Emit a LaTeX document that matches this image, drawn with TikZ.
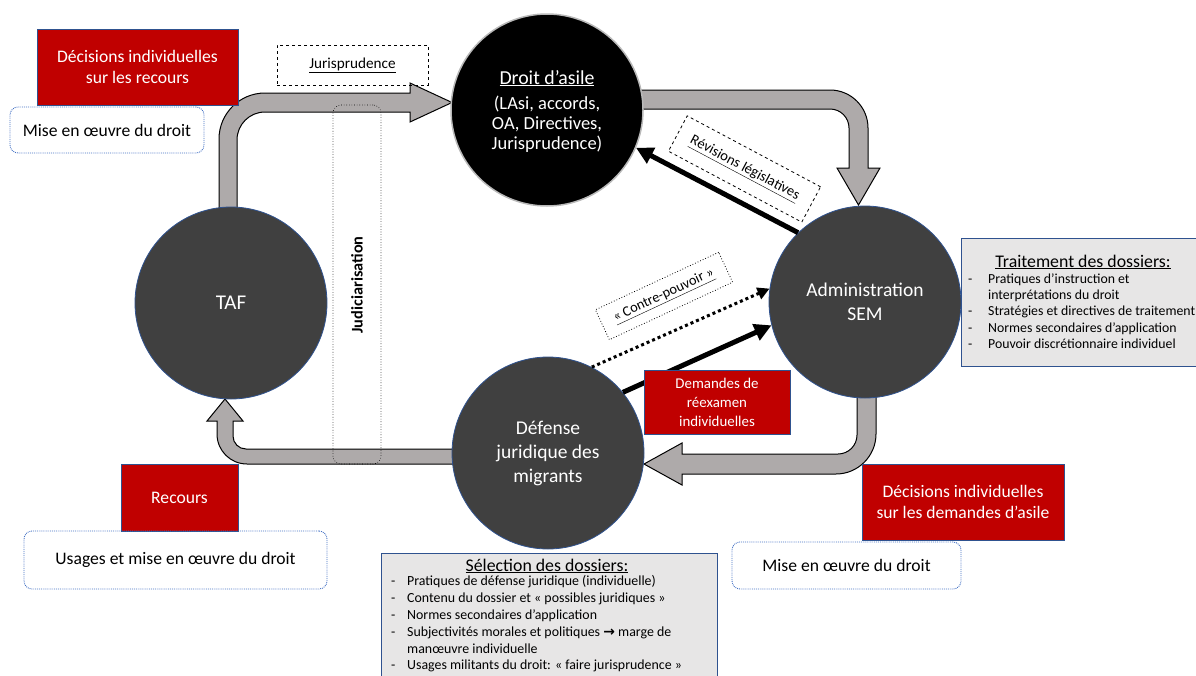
\documentclass[tikz,border=0pt]{standalone}
\usepackage{fontspec}
\setmainfont{Carlito}
\newfontfamily\dejavu{DejaVu Sans}
\usetikzlibrary{arrows.meta}
\definecolor{redfill}{HTML}{C00000}
\definecolor{bluebd}{HTML}{2F528F}
\definecolor{dotblue}{HTML}{4472C4}
\definecolor{arrowgrey}{HTML}{AEAAAA}
\definecolor{circgrey}{HTML}{404040}
\definecolor{boxgrey}{HTML}{E7E6E6}
\begin{document}
\begin{tikzpicture}[x=1pt,y=-1pt,
  circ/.style={circle, minimum size=192pt, inner sep=0pt, text=white, align=center, font=\fontsize{19.5}{24}\selectfont},
  blackcirc/.style={circ, fill=black, draw=gray!55, line width=1.5pt},
  greycirc/.style={circ, fill=circgrey, draw=bluebd, line width=0.8pt},
  redbox/.style={rectangle, fill=redfill, draw=bluebd, line width=0.8pt, text=white, align=center, inner sep=0pt, font=\fontsize{17.6}{20.5}\selectfont},
  misebox/.style={rectangle, rounded corners=8pt, draw=dotblue, densely dotted, line width=0.9pt, align=center, inner sep=0pt, font=\fontsize{17.6}{20}\selectfont},
  dashlabel/.style={rectangle, draw=black, dashed, line width=0.8pt, inner sep=0pt, font=\fontsize{14.5}{16}\selectfont},
  dotlabel/.style={rectangle, draw=black, dotted, line width=0.8pt, inner sep=0pt, font=\fontsize{14.3}{16}\selectfont},
  blockarrow/.style={fill=arrowgrey, draw=black, line width=1pt, line join=miter},
  greybox/.style={fill=boxgrey, draw=bluebd, line width=0.8pt},
  boldarrow/.style={line width=5pt, -{Triangle[length=17pt,width=17pt]}},
  dotarrow/.style={line width=3pt, dash pattern=on 3pt off 3pt, -{Triangle[length=12pt,width=12pt]}},
  title/.style={inner sep=0pt, font=\fontsize{17.8}{20}\selectfont},
  bullets/.style={inner sep=0pt, anchor=north west},
]
\useasboundingbox (0,0) rectangle (1196,675);

% block arrows
\draw[blockarrow] (219,208) -- (219,139) .. controls (219,113.6) and (239.6,93) .. (265,93) -- (410,93) -- (410,83) -- (452,102.5) -- (410,122) -- (410,112) -- (265,112) .. controls (249.5,112) and (237,124.5) .. (237,140) -- (237,208) -- cycle;
\draw[blockarrow] (638,90) -- (830,90) .. controls (851,90) and (868,107) .. (868,128) -- (868,168) -- (880,168) -- (858.5,205) -- (837,168) -- (849,168) -- (849,128) .. controls (849,117.5) and (840.5,109) .. (830,109) -- (638,109) -- cycle;
\draw[blockarrow] (857,392) -- (857,435) .. controls (857,445.5) and (848.5,454) .. (838,454) -- (682,454) -- (682,443) -- (644,464) -- (682,485) -- (682,474) -- (836,474) .. controls (858,474) and (876,456) .. (876,434) -- (876,392) -- cycle;
\draw[blockarrow] (456,449) -- (246,449) .. controls (238.8,449) and (233,443.2) .. (233,436) -- (233,421) -- (243,421) -- (225,399) -- (207,421) -- (217,421) -- (217,434) .. controls (217,450.6) and (230.4,464) .. (247,464) -- (456,464) -- cycle;

% circles
\node[blackcirc, font=\fontsize{18.5}{20}\selectfont] (droit) at (547,110) {\\[-4pt]{\fontsize{19.8}{20}\selectfont\underline{Droit d’asile}}\\[5pt](LAsi, accords,\\ OA, Directives,\\ Jurisprudence)};
\node[greycirc, font=\fontsize{21}{24}\selectfont] (taf) at (231,303) {TAF};
\node[greycirc] (sem) at (865,302) {Administration\\SEM};
\node[greycirc] (def) at (548,453) {Défense\\juridique des\\migrants};

% judiciarisation
\node[draw, dotted, line width=0.6pt, rounded corners=8pt, minimum width=48pt, minimum height=359pt, inner sep=0pt] (judic) at (357,284.5) {};
\node[rotate=90, inner sep=0pt, font=\bfseries\fontsize{16.3}{18}\selectfont] (judictxt) at (357,285) {Judiciarisation};

% labels on connectors
\node[dashlabel, minimum width=151pt, minimum height=40pt, font=\fontsize{15.2}{16}\selectfont] (juris) at (352.5,65) {\underline{Jurisprudence}};
\node[dashlabel, minimum width=151pt, minimum height=40pt, rotate=-28] (revis) at (744.5,169) {\underline{Révisions législatives}};
\node[dotlabel, minimum width=136pt, minimum height=33pt, rotate=25] (contre) at (664,296) {\underline{« Contre-pouvoir »}};

% black connectors
\draw[boldarrow] (sem.134.6) -- (droit.-23.7);
\draw[boldarrow] (def.39) -- (sem.194);
\draw[dotarrow] (def.63) -- (sem.172);

% red boxes
\node[redbox, minimum width=201pt, minimum height=76pt] (decrec) at (137.5,67) {Décisions individuelles\\sur les recours};
\node[misebox, minimum width=194pt, minimum height=46pt] (mise1) at (107,130) {Mise en œuvre du droit};
\node[redbox, minimum width=117pt, minimum height=67pt] (recours) at (179.5,497.5) {Recours};
\node[misebox, minimum width=303pt, minimum height=58pt] (usages) at (175.5,560) {Usages et mise en œuvre du droit};
\node[redbox, minimum width=146pt, minimum height=64pt, font=\fontsize{14.9}{19}\selectfont] (demandes) at (717,402) {Demandes de\\réexamen\\individuelles};
\node[redbox, minimum width=202pt, minimum height=76pt] (decasile) at (963,502) {Décisions individuelles\\sur les demandes d’asile};
\node[misebox, minimum width=229pt, minimum height=47pt] (mise2) at (846.5,565.5) {Mise en œuvre du droit};

% grey boxes
\draw[greybox] (961,238) rectangle (1200,366);
\node[title] (trait) at (1083,262) {\underline{Traitement des dossiers:}};
\node[bullets, font=\fontsize{13.8}{16.2}\selectfont] (traitlist) at (968,272) {%
\begin{tabular}{@{}l@{}l@{}}
\makebox[20pt][l]{-} & Pratiques d’instruction et\\
 & interprétations du droit\\
\makebox[20pt][l]{-} & Stratégies et directives de traitement\\
\makebox[20pt][l]{-} & Normes secondaires d’application\\
\makebox[20pt][l]{-} & Pouvoir discrétionnaire individuel
\end{tabular}};

\draw[greybox] (381,553) rectangle (717,680);
\node[title] (select) at (547,566) {\underline{Sélection des dossiers:}};
\node[bullets, font=\fontsize{13.9}{16.8}\selectfont] (selectlist) at (391,574) {%
\begin{tabular}{@{}l@{}l@{}}
\makebox[16pt][l]{-} & Pratiques de défense juridique (individuelle)\\
\makebox[16pt][l]{-} & Contenu du dossier et « possibles juridiques »\\
\makebox[16pt][l]{-} & Normes secondaires d’application\\
\makebox[16pt][l]{-} & Subjectivités morales et politiques {\dejavu\bfseries →} marge de\\
 & manœuvre individuelle\\
\makebox[16pt][l]{-} & Usages militants du droit: « faire jurisprudence »
\end{tabular}};
\end{tikzpicture}
\end{document}
